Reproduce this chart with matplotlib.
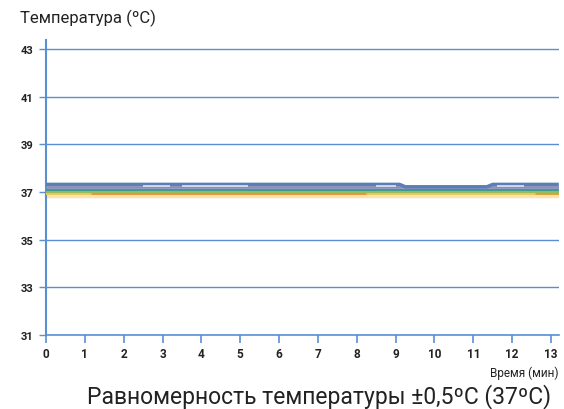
import matplotlib
matplotlib.use("Agg")
import matplotlib.pyplot as plt

plt.rcParams['font.family'] = ['Roboto', 'DejaVu Sans']

# Data
y_ticks = [31, 33, 35, 37, 39, 41, 43]
x_ticks = list(range(0, 14))

s_blue_x = [0, 9.1, 9.25, 11.35, 11.5, 13.2]
s_blue_y = [37.32, 37.32, 37.22, 37.22, 37.32, 37.32]
s_slate_x = [0, 13.2]
s_slate_y = [37.22, 37.22]
s_light_x = [2.5, 3.2, 3.5, 5.2, 8.5, 9.0, 11.6, 12.3]
s_light_y = [37.27, 37.27, 37.27, 37.27, 37.27, 37.27, 37.27, 37.27]
s_teal_x = [0, 13.2]
s_teal_y = [37.08, 37.08]
s_green_x = [0, 13.2]
s_green_y = [37.02, 37.02]
s_orange_x = [1.15, 8.25, 12.6, 13.2]
s_orange_y = [36.95, 36.95, 36.95, 36.95]
s_gold_x = [0, 13.2]
s_gold_y = [36.9, 36.9]
s_pale_x = [0, 13.2]
s_pale_y = [36.84, 36.84]

fig = plt.figure(figsize=(5.64, 4.10), dpi=100)
ax = fig.add_axes([46/564, 1-336/410, 512.8/564, 295.5/410])
ax.set_xlim(0, 13.2)
ax.set_ylim(31, 43.4)

grid_c = '#5b8fd3'
for yv in y_ticks:
    ax.axhline(yv, color=grid_c, lw=1.0, zorder=1)

# series (drawn bottom to top)
ax.plot(s_pale_x, s_pale_y, color='#fbe3ad', lw=2.5, zorder=2, solid_capstyle='butt')
ax.plot(s_gold_x, s_gold_y, color='#e9c86a', lw=1.5, zorder=3, solid_capstyle='butt')
ax.plot(s_orange_x[:2], s_orange_y[:2], color='#ef8f3c', lw=2.0, zorder=4, solid_capstyle='butt')
ax.plot(s_orange_x[2:], s_orange_y[2:], color='#d7a13a', lw=2.0, zorder=4, solid_capstyle='butt')
ax.plot(s_green_x, s_green_y, color='#9bbb59', lw=1.5, zorder=4, solid_capstyle='butt')
ax.plot(s_teal_x, s_teal_y, color='#3f9b8f', lw=1.5, zorder=5, solid_capstyle='butt')
ax.plot(s_slate_x, s_slate_y, color='#8b8fb8', lw=2.0, zorder=5, solid_capstyle='butt')
ax.plot(s_blue_x, s_blue_y, color='#5a7fb8', lw=2.5, zorder=6, solid_capstyle='butt')
for i in range(0, len(s_light_x), 2):
    ax.plot(s_light_x[i:i+2], s_light_y[i:i+2], color='#dfe7f2', lw=1.2, zorder=7, solid_capstyle='butt')

for sp in ['top', 'right']:
    ax.spines[sp].set_visible(False)
ax.spines['left'].set_color(grid_c)
ax.spines['left'].set_linewidth(1.5)
ax.spines['bottom'].set_color(grid_c)
ax.spines['bottom'].set_linewidth(1.2)

ax.set_yticks(y_ticks)
ax.set_yticklabels([str(v) for v in y_ticks], fontsize=8, fontweight='bold', color='#222222')
ax.set_xticks(x_ticks)
ax.set_xticklabels([str(v) for v in x_ticks], fontsize=8.5, fontweight='bold', color='#222222')
ax.tick_params(axis='y', direction='out', length=5, color=grid_c, width=1, pad=4)
ax.tick_params(axis='x', direction='out', length=6, color=grid_c, width=1.2, pad=3)

fig.text(20/564, 1-18/410, 'Температура (ºC)', fontsize=12, color='#222222', va='center', ha='left')
fig.text(524/564, 1-373/410, 'Время (мин)', fontsize=8.5, color='#222222', va='center', ha='center')
fig.text(319/564, 1-397/410, 'Равномерность температуры ±0,5ºC (37ºC)', fontsize=16.5,
         color='#222222', va='center', ha='center')

fig.savefig('out.png', dpi=100)
